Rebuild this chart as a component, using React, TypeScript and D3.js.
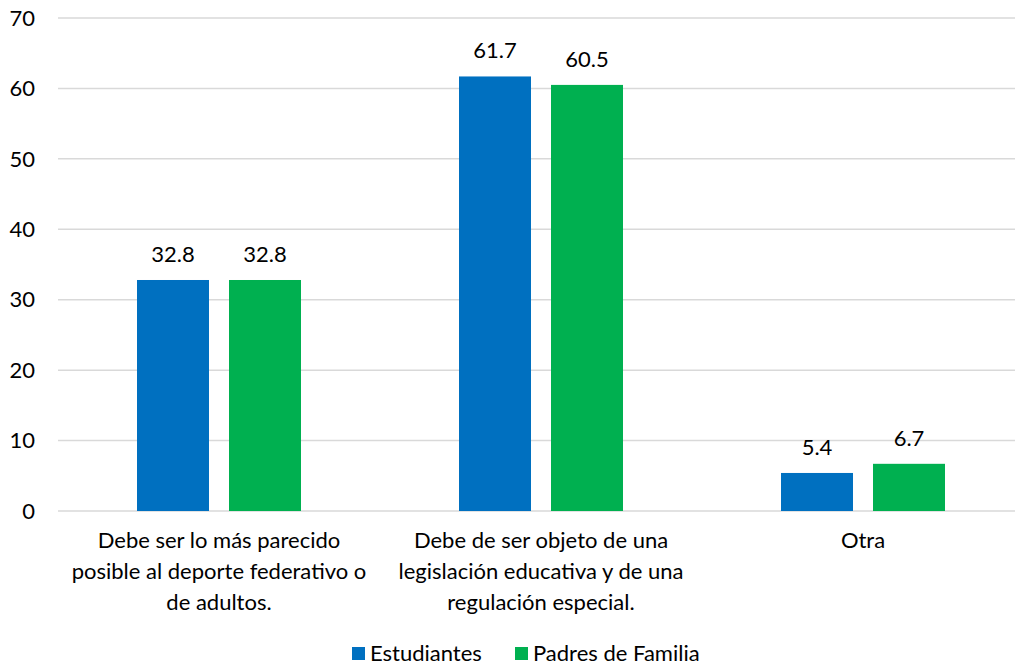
import React, { useRef, useEffect } from 'react'
import * as d3 from 'd3'

const categories = ['cat1', 'cat2', 'cat3']
const categoryLines = [
  ['Debe ser lo más parecido', 'posible al deporte federativo o', 'de adultos.'],
  ['Debe de ser objeto de una', 'legislación educativa y de una', 'regulación especial.'],
  ['Otra']
]
const seriesNames = ['Estudiantes', 'Padres de Familia']
const estudiantes = [32.8, 61.7, 5.4]
const padres = [32.8, 60.5, 6.7]
const yTicks = [0, 10, 20, 30, 40, 50, 60, 70]
const colors = ['#0070C0', '#00B050']

const FONT = 'Lato, "Open Sans", sans-serif'

const App: React.FC = () => {
  const svgRef = useRef<SVGSVGElement>(null)

  useEffect(() => {
    if (!svgRef.current) return
    const svg = d3.select(svgRef.current)
    svg.selectAll('*').remove()

    const left = 58
    const right = 1024
    const top = 18
    const bottom = 511

    const x0 = d3.scaleBand<string>().domain(categories).range([left, right])
    const y = d3.scaleLinear().domain([0, 70]).range([bottom, top])

    const barW = 72
    const gap = 20

    // gridlines
    svg.append('g')
      .selectAll('line')
      .data(yTicks)
      .enter().append('line')
      .attr('x1', left).attr('x2', right)
      .attr('y1', d => y(d)).attr('y2', d => y(d))
      .attr('stroke', '#d9d9d9')
      .attr('stroke-width', 1.5)

    // y tick labels
    svg.append('g')
      .selectAll('text')
      .data(yTicks)
      .enter().append('text')
      .attr('x', 35)
      .attr('y', d => y(d))
      .attr('dy', '0.35em')
      .attr('text-anchor', 'end')
      .attr('font-family', FONT)
      .attr('font-size', 22)
      .attr('fill', '#000')
      .text(d => d)

    const series = [estudiantes, padres]
    series.forEach((vals, si) => {
      const g = svg.append('g')
      const xPos = (i: number) => {
        const c = (x0(categories[i]) || 0) + x0.bandwidth() / 2
        return si === 0 ? c - gap / 2 - barW : c + gap / 2
      }
      g.selectAll('rect')
        .data(vals)
        .enter().append('rect')
        .attr('x', (d, i) => xPos(i))
        .attr('y', d => y(d))
        .attr('width', barW)
        .attr('height', d => bottom - y(d))
        .attr('fill', colors[si])

      g.selectAll('text')
        .data(vals)
        .enter().append('text')
        .attr('x', (d, i) => xPos(i) + barW / 2)
        .attr('y', d => y(d) - 18)
        .attr('text-anchor', 'middle')
        .attr('font-family', FONT)
        .attr('font-size', 22)
        .attr('fill', '#000')
        .text(d => d.toFixed(1))
    })

    // category labels
    const catG = svg.append('g')
    categories.forEach((c, i) => {
      const cx = (x0(c) || 0) + x0.bandwidth() / 2
      const t = catG.append('text')
        .attr('text-anchor', 'middle')
        .attr('font-family', FONT)
        .attr('font-size', 22)
        .attr('fill', '#000')
      categoryLines[i].forEach((line, li) => {
        t.append('tspan')
          .attr('x', cx)
          .attr('y', 548 + li * 31)
          .text(line)
      })
    })

    // legend
    const legendItems = [
      { name: seriesNames[0], x: 352, color: colors[0] },
      { name: seriesNames[1], x: 515, color: colors[1] }
    ]
    const lg = svg.append('g')
    legendItems.forEach(it => {
      lg.append('rect')
        .attr('x', it.x).attr('y', 647)
        .attr('width', 13).attr('height', 13)
        .attr('fill', it.color)
      lg.append('text')
        .attr('x', it.x + 18).attr('y', 661)
        .attr('font-family', FONT)
        .attr('font-size', 22)
        .attr('fill', '#000')
        .text(it.name)
    })
  }, [])

  return (
    <svg
      ref={svgRef}
      width={1015}
      height={668}
      style={{ position: 'absolute', left: 0, top: 0, background: '#fff' }}
    />
  )
}

export default App
